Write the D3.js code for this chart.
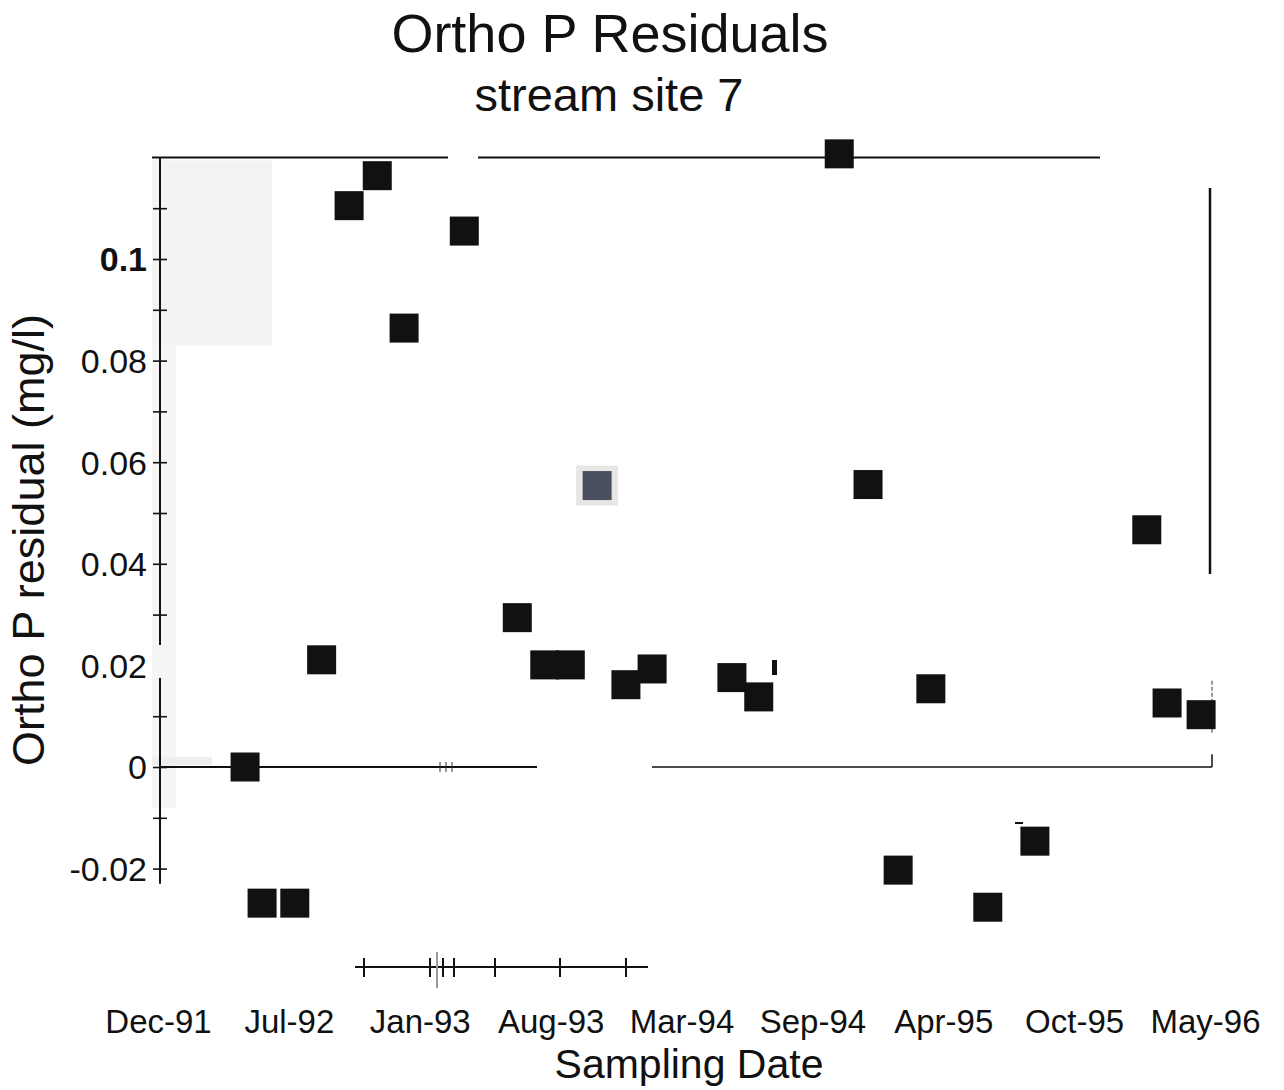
<!DOCTYPE html>
<html>
<head>
<meta charset="utf-8">
<script src="https://cdn.jsdelivr.net/npm/d3@7/dist/d3.min.js"></script>
<style>
  html, body { margin: 0; padding: 0; background: #ffffff; }
  svg { display: block; }
  text { font-family: "Liberation Sans", Arial, sans-serif; fill: #111; }
</style>
</head>
<body>
<svg id="chart" width="1284" height="1090"></svg>
<script>
// ---- data ----
const sampleDates = [
  "1992-05-02", "1992-05-28", "1992-07-17", "1992-08-27", "1992-10-08",
  "1992-11-20", "1992-12-31", "1993-04-02", "1993-06-22", "1993-08-03",
  "1993-09-11", "1993-10-22", "1993-12-05", "1994-01-14", "1994-05-16",
  "1994-06-26", "1994-10-27", "1994-12-10", "1995-01-25", "1995-03-16",
  "1995-06-11", "1995-08-22", "1996-02-09", "1996-03-11", "1996-05-02"
];
const residuals = [
  0.0000, -0.0268, -0.0268, 0.0211, 0.1105,
  0.1164, 0.0864, 0.1055, 0.0294, 0.0201,
  0.0201, 0.0554, 0.0162, 0.0193, 0.0176,
  0.0138, 0.1207, 0.0556, -0.0203, 0.0154,
  -0.0276, -0.0146, 0.0467, 0.0126, 0.0103
];
const xTickDates = [
  "1991-12-24", "1992-07-11", "1993-01-27", "1993-08-15", "1994-03-03",
  "1994-09-19", "1995-04-07", "1995-10-24", "1996-05-11"
];
const xTickLabels = ["Dec-91", "Jul-92", "Jan-93", "Aug-93", "Mar-94", "Sep-94", "Apr-95", "Oct-95", "May-96"];
const yLabelTicks = [-0.02, 0, 0.02, 0.04, 0.06, 0.08, 0.1];
const yMinorTicks = [-0.02, -0.01, 0, 0.01, 0.02, 0.03, 0.04, 0.05, 0.06, 0.07, 0.08, 0.09, 0.1, 0.11];
const highlightedDate = "1993-10-22";

const titleText = "Ortho P Residuals";
const subtitleText = "stream site 7";
const xTitle = "Sampling Date";
const yTitle = "Ortho P residual (mg/l)";

// ---- drawing ----
const parse = d3.timeParse("%Y-%m-%d");
const points = sampleDates.map((d, i) => ({ date: parse(d), key: d, value: residuals[i] }));
const tickDates = xTickDates.map(parse);

const svg = d3.select("#chart");

const x = d3.scaleTime()
  .domain([tickDates[0], tickDates[tickDates.length - 1]])
  .range([160, 1207]);
const y = d3.scaleLinear()
  .domain([0, 0.1])
  .range([767, 259]);

// scan shading near top-left of plot
svg.append("rect").attr("x", 152).attr("y", y(0.12) + 3).attr("width", 120).attr("height", y(0.083) - y(0.12) - 3)
  .attr("fill", "#f3f3f3");
svg.append("rect").attr("x", 152).attr("y", y(0.083)).attr("width", 24).attr("height", y(-0.008) - y(0.083))
  .attr("fill", "#f5f5f5");
svg.append("rect").attr("x", 152).attr("y", y(0.002)).attr("width", 60).attr("height", 8)
  .attr("fill", "#eeeeee");

// top border (broken, as in the scan)
svg.append("line").attr("x1", 152).attr("x2", 448).attr("y1", y(0.12)).attr("y2", y(0.12))
  .attr("stroke", "#111").attr("stroke-width", 2);
svg.append("line").attr("x1", 478).attr("x2", 1100).attr("y1", y(0.12)).attr("y2", y(0.12))
  .attr("stroke", "#111").attr("stroke-width", 2);

// right border pieces
svg.append("line").attr("x1", 1210).attr("x2", 1210).attr("y1", y(0.114)).attr("y2", y(0.038))
  .attr("stroke", "#111").attr("stroke-width", 2.5);
svg.append("line").attr("x1", 1212).attr("x2", 1212).attr("y1", y(0.017)).attr("y2", y(0.0065))
  .attr("stroke", "#555").attr("stroke-width", 1.2).attr("stroke-dasharray", "4,2");
svg.append("line").attr("x1", 1212).attr("x2", 1212).attr("y1", y(0.0025)).attr("y2", y(0))
  .attr("stroke", "#111").attr("stroke-width", 1.5);

// zero line (broken)
svg.append("line").attr("x1", 160).attr("x2", 537).attr("y1", y(0)).attr("y2", y(0))
  .attr("stroke", "#111").attr("stroke-width", 2);
svg.append("line").attr("x1", 652).attr("x2", 1212).attr("y1", y(0)).attr("y2", y(0))
  .attr("stroke", "#111").attr("stroke-width", 1.4);
[440, 446, 452].forEach(px => {
  svg.append("line").attr("x1", px).attr("x2", px).attr("y1", y(0) - 5).attr("y2", y(0) + 5)
    .attr("stroke", "#333").attr("stroke-width", 1);
});

// y axis
const yAxis = d3.axisLeft(y)
  .tickValues(yMinorTicks)
  .tickSizeInner(7)
  .tickSizeOuter(0)
  .tickFormat("");
const gy = svg.append("g").attr("transform", "translate(160,0)").call(yAxis);
gy.select(".domain").remove();
gy.selectAll(".tick line").attr("x1", 7).attr("x2", -7).attr("stroke", "#111").attr("stroke-width", 1.6);
gy.selectAll(".tick").filter(d => d === 0.02).remove();
// axis line segments (gap as in the scan)
svg.append("line").attr("x1", 160).attr("x2", 160).attr("y1", y(0.12)).attr("y2", y(0.024))
  .attr("stroke", "#111").attr("stroke-width", 2);
svg.append("line").attr("x1", 160).attr("x2", 160).attr("y1", y(0.0175)).attr("y2", y(-0.023))
  .attr("stroke", "#111").attr("stroke-width", 2);

// y tick labels
const yLab = d3.axisLeft(y)
  .tickValues(yLabelTicks)
  .tickSize(0)
  .tickPadding(13)
  .tickFormat(d => d === 0 ? "0" : String(+d.toFixed(2)));
const gyl = svg.append("g").attr("transform", "translate(160,0)").call(yLab);
gyl.select(".domain").remove();
gyl.selectAll("text").style("font-size", "34px").attr("font-family", "Liberation Sans, Arial, sans-serif")
  .attr("fill", "#111").attr("dy", "0.35em")
  .attr("font-weight", d => (d === 0.1 ? "bold" : "normal"));

// x axis labels
const xAxis = d3.axisBottom(x)
  .tickValues(tickDates)
  .tickSize(0)
  .tickPadding(0)
  .tickFormat((d, i) => xTickLabels[i]);
const gx = svg.append("g").attr("transform", "translate(-2,1009)").call(xAxis);
gx.select(".domain").remove();
gx.selectAll("text").style("font-size", "33px").attr("font-family", "Liberation Sans, Arial, sans-serif")
  .attr("fill", "#111").attr("dy", "0.72em");

// stray axis fragment from the scan
svg.append("line").attr("x1", 355).attr("x2", 648).attr("y1", 967).attr("y2", 967)
  .attr("stroke", "#111").attr("stroke-width", 2);
[364, 430, 443, 454, 495, 560, 626].forEach(px => {
  svg.append("line").attr("x1", px).attr("x2", px).attr("y1", 958).attr("y2", 977)
    .attr("stroke", "#111").attr("stroke-width", 2);
});
svg.append("line").attr("x1", 437).attr("x2", 437).attr("y1", 952).attr("y2", 988)
  .attr("stroke", "#999").attr("stroke-width", 2);

// points
const size = 29;
const pts = svg.append("g");
pts.selectAll("rect.bg").data(points.filter(d => d.key === highlightedDate)).join("rect")
  .attr("class", "bg")
  .attr("x", d => x(d.date) - 21).attr("y", d => y(d.value) - 20)
  .attr("width", 42).attr("height", 40)
  .attr("fill", "#e7e7e5");
pts.selectAll("rect.pt").data(points).join("rect")
  .attr("class", "pt")
  .attr("x", d => x(d.date) - size / 2).attr("y", d => y(d.value) - size / 2)
  .attr("width", size).attr("height", size)
  .attr("fill", d => d.key === highlightedDate ? "#4a505e" : "#111");

// small stray marks
svg.append("rect").attr("x", 772).attr("y", 660).attr("width", 5).attr("height", 15).attr("fill", "#111");
svg.append("rect").attr("x", 1015).attr("y", 822).attr("width", 8).attr("height", 2).attr("fill", "#111");

// titles
svg.append("text").attr("x", 610).attr("y", 52).attr("text-anchor", "middle")
  .style("font-size", "54px").text(titleText);
svg.append("text").attr("x", 609).attr("y", 111).attr("text-anchor", "middle")
  .style("font-size", "47px").text(subtitleText);
svg.append("text").attr("x", 689).attr("y", 1078).attr("text-anchor", "middle")
  .style("font-size", "41px").text(xTitle);
svg.append("text").attr("transform", "translate(44,540) rotate(-90)").attr("text-anchor", "middle")
  .style("font-size", "45px").text(yTitle);
</script>
</body>
</html>
